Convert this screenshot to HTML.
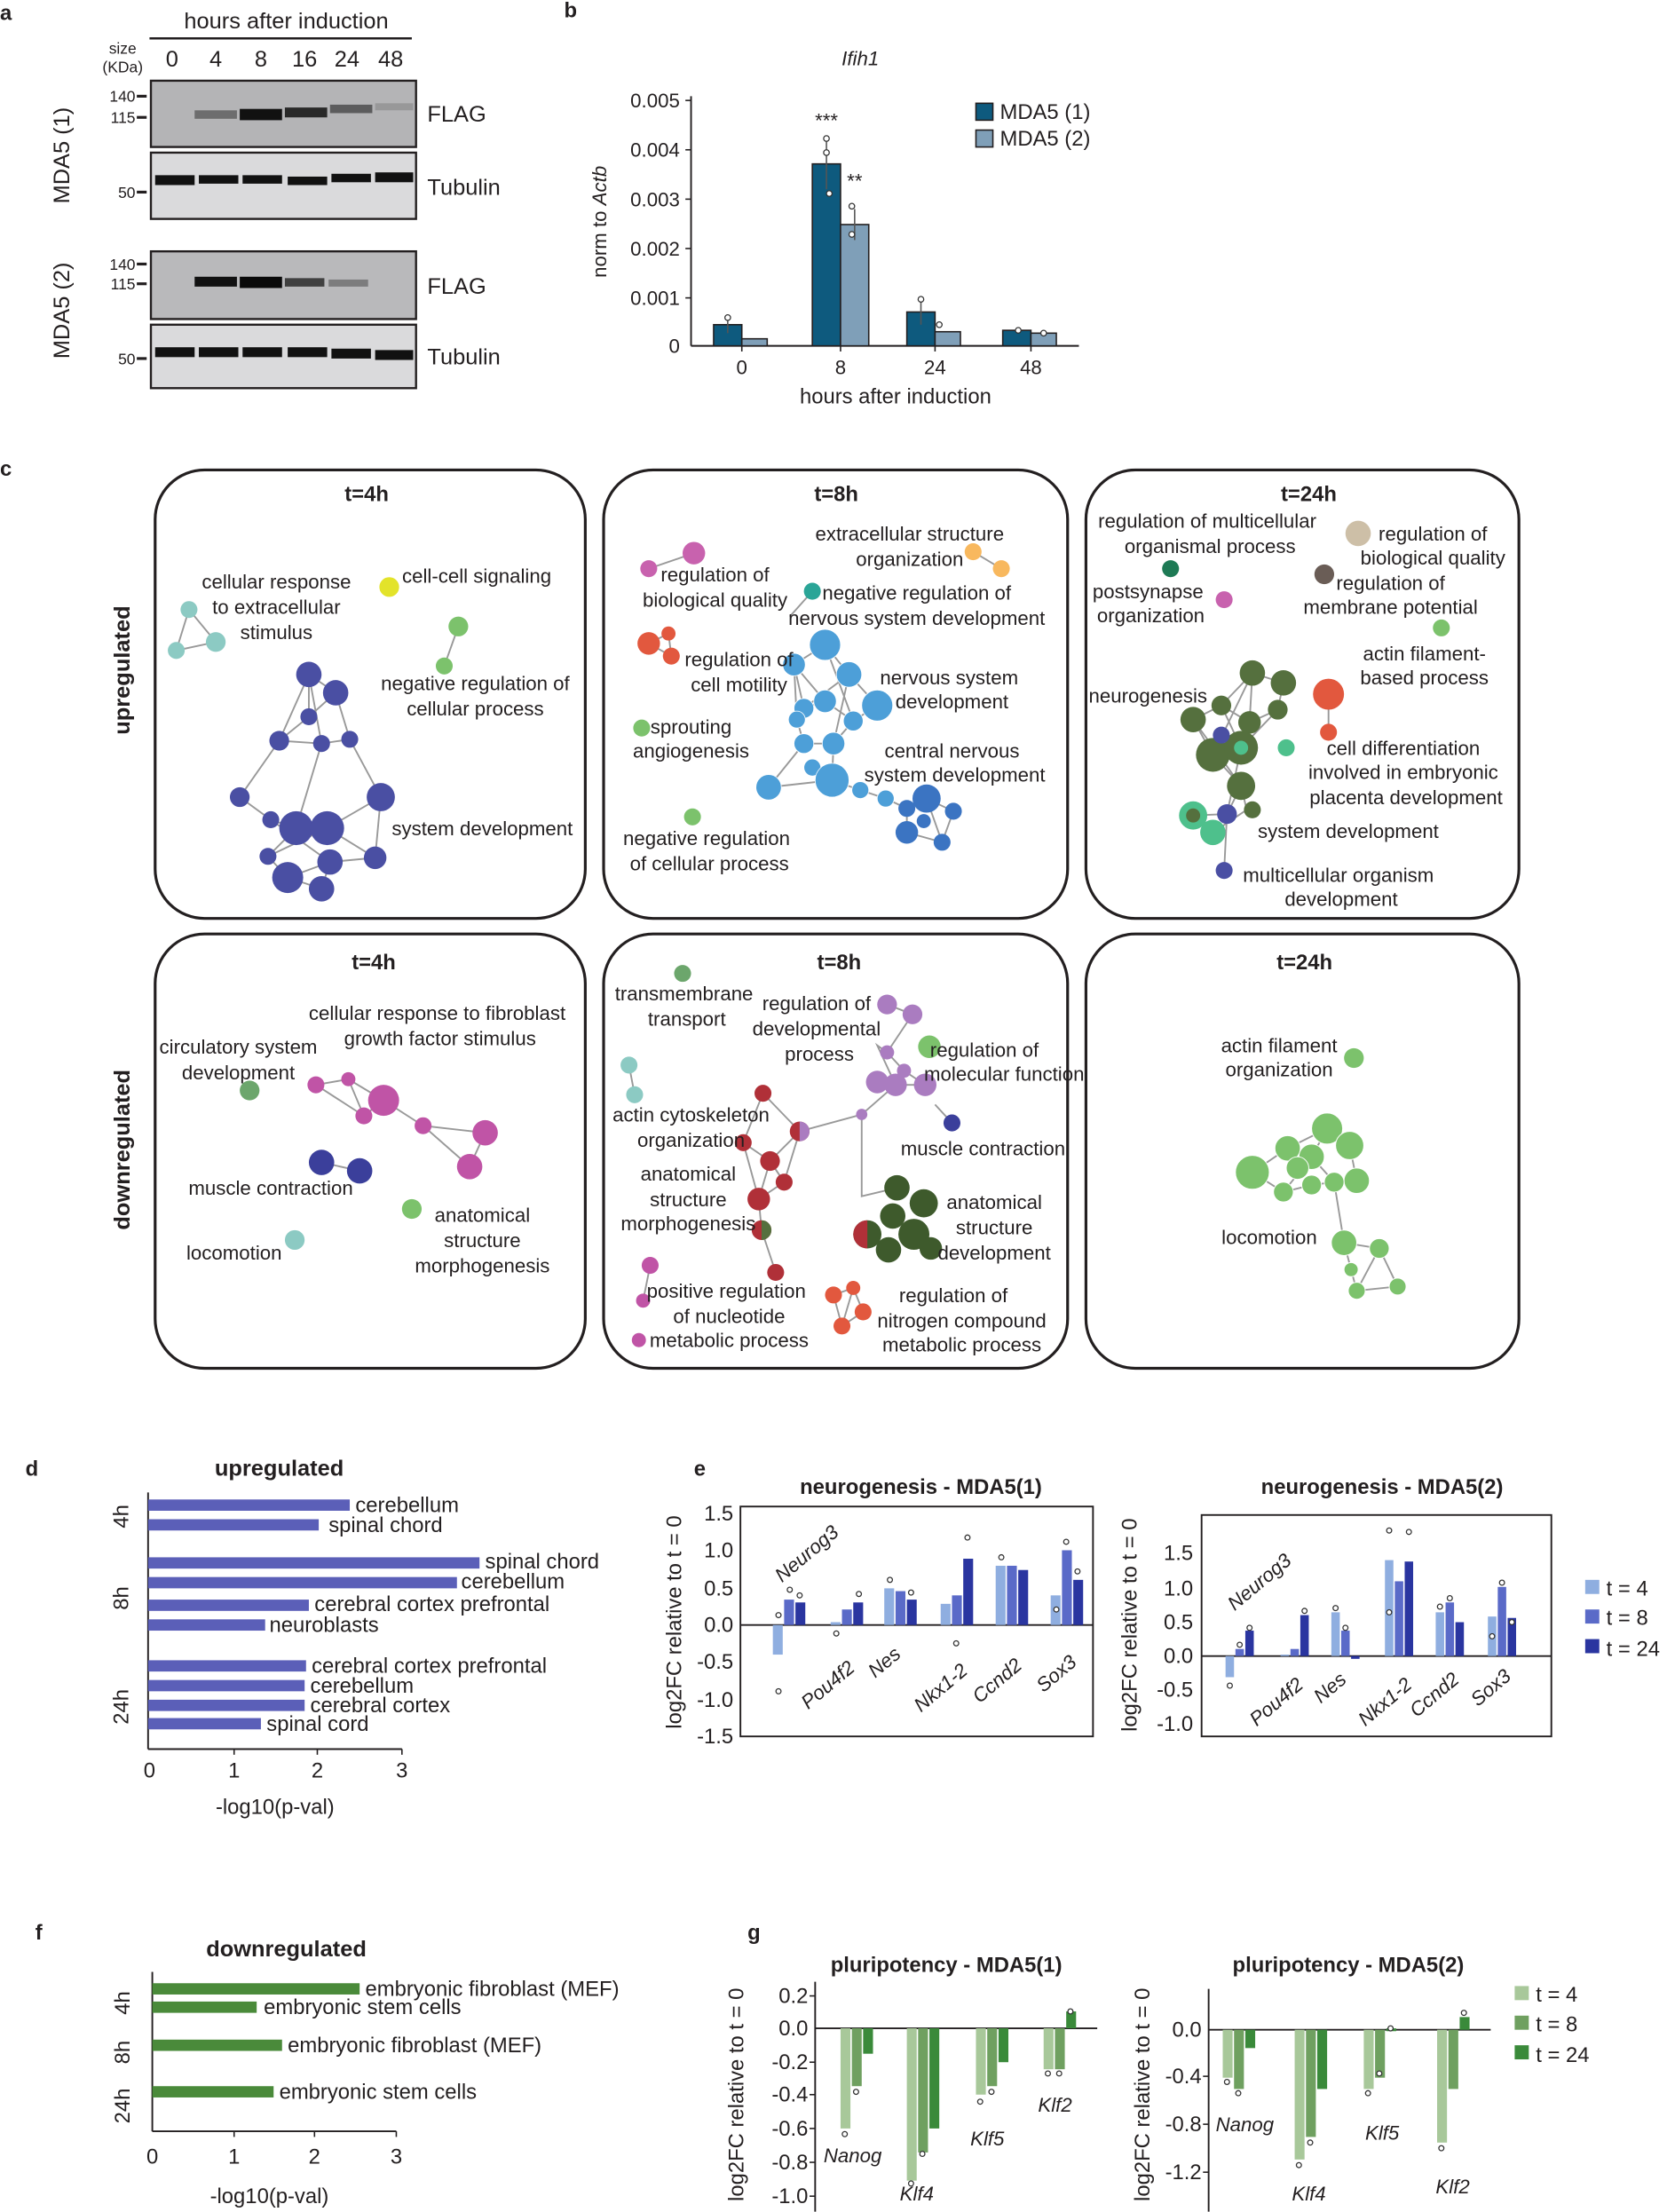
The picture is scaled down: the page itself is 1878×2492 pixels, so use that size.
<!DOCTYPE html>
<html><head><meta charset="utf-8"><style>
html,body{margin:0;padding:0;background:#fff}
svg{display:block}
text{font-family:"Liberation Sans",Arial,sans-serif;fill:#231f20}
g[stroke="#999"] path{fill:none}
</style></head><body>
<svg width="1878" height="2492" viewBox="0 0 1182 1568" xmlns="http://www.w3.org/2000/svg">
<rect width="1182" height="1568" fill="#fff"/>
<g font-weight="bold" font-size="15">
<text x="0" y="14">a</text><text x="400" y="12">b</text><text x="0" y="337">c</text>
<text x="18" y="1046">d</text><text x="492" y="1046">e</text><text x="25" y="1375">f</text><text x="530" y="1375">g</text>
</g>
<text x="203" y="20" font-size="16" text-anchor="middle">hours after induction</text>
<line x1="106" y1="27" x2="292" y2="27" stroke="#231f20" stroke-width="1.5"/>
<text x="87" y="38" font-size="11" text-anchor="middle">size</text>
<text x="87" y="51" font-size="11" text-anchor="middle">(KDa)</text>
<g font-size="16" text-anchor="middle">
<text x="122" y="47">0</text><text x="153" y="47">4</text><text x="185" y="47">8</text><text x="216" y="47">16</text><text x="246" y="47">24</text><text x="277" y="47">48</text>
</g>
<rect x="107" y="57" width="188" height="47" fill="#b4b4b6" stroke="#231f20" stroke-width="1.5"/>
<rect x="138" y="78" width="30" height="6" fill="#333" opacity="0.55"/>
<rect x="170" y="77" width="30" height="8" fill="#111"/>
<rect x="202" y="76" width="30" height="7" fill="#1a1a1a" opacity="0.9"/>
<rect x="234" y="74" width="30" height="6" fill="#222" opacity="0.6"/>
<rect x="266" y="73" width="27" height="5" fill="#444" opacity="0.25"/>
<rect x="107" y="108" width="188" height="47" fill="#dadadc" stroke="#231f20" stroke-width="1.5"/>
<g fill="#111"><rect x="110" y="124" width="28" height="7"/><rect x="141" y="124" width="28" height="6"/><rect x="172" y="124" width="28" height="6"/><rect x="204" y="125" width="28" height="6"/><rect x="235" y="123" width="28" height="6"/><rect x="266" y="122" width="27" height="7"/></g>
<rect x="107" y="178" width="188" height="48" fill="#b9b9bb" stroke="#231f20" stroke-width="1.5"/>
<rect x="138" y="196" width="30" height="7" fill="#111"/>
<rect x="170" y="196" width="30" height="8" fill="#0a0a0a"/>
<rect x="202" y="197" width="28" height="6" fill="#222" opacity="0.8"/>
<rect x="233" y="198" width="28" height="5" fill="#333" opacity="0.45"/>
<rect x="107" y="230" width="188" height="45" fill="#dadadc" stroke="#231f20" stroke-width="1.5"/>
<g fill="#111"><rect x="110" y="246" width="28" height="7"/><rect x="141" y="246" width="28" height="7"/><rect x="172" y="246" width="28" height="7"/><rect x="204" y="246" width="28" height="7"/><rect x="235" y="247" width="28" height="7"/><rect x="266" y="248" width="27" height="7"/></g>
<g font-size="11" text-anchor="end">
<text x="96" y="72">140</text><text x="96" y="87">115</text><text x="96" y="140">50</text>
<text x="96" y="191">140</text><text x="96" y="205">115</text><text x="96" y="258">50</text>
</g>
<g stroke="#231f20" stroke-width="2"><line x1="97" y1="68" x2="104" y2="68"/><line x1="97" y1="83" x2="104" y2="83"/><line x1="97" y1="136" x2="104" y2="136"/><line x1="97" y1="187" x2="104" y2="187"/><line x1="97" y1="201" x2="104" y2="201"/><line x1="97" y1="254" x2="104" y2="254"/></g>
<g font-size="16"><text x="303" y="86">FLAG</text><text x="303" y="138">Tubulin</text><text x="303" y="208">FLAG</text><text x="303" y="258">Tubulin</text></g>
<text transform="translate(49,110) rotate(-90)" font-size="16" text-anchor="middle">MDA5 (1)</text>
<text transform="translate(49,220) rotate(-90)" font-size="16" text-anchor="middle">MDA5 (2)</text>
<text x="610" y="46" font-size="14" font-style="italic" text-anchor="middle">Ifih1</text>
<line x1="490" y1="68" x2="490" y2="245" stroke="#231f20" stroke-width="1.2"/>
<line x1="490" y1="245" x2="765" y2="245" stroke="#231f20" stroke-width="1.2"/>
<g font-size="14" text-anchor="end">
<text x="482" y="76">0.005</text><text x="482" y="111">0.004</text><text x="482" y="146">0.003</text><text x="482" y="181">0.002</text><text x="482" y="216">0.001</text><text x="482" y="250">0</text>
</g>
<g stroke="#231f20"><line x1="486" y1="71" x2="490" y2="71"/><line x1="486" y1="106" x2="490" y2="106"/><line x1="486" y1="141" x2="490" y2="141"/><line x1="486" y1="176" x2="490" y2="176"/><line x1="486" y1="211" x2="490" y2="211"/>
<line x1="526" y1="245" x2="526" y2="249"/><line x1="596" y1="245" x2="596" y2="249"/><line x1="663" y1="245" x2="663" y2="249"/><line x1="731" y1="245" x2="731" y2="249"/></g>
<text transform="translate(430,157) rotate(-90)" font-size="14" text-anchor="middle">norm to <tspan font-style="italic">Actb</tspan></text>
<g font-size="14" text-anchor="middle"><text x="526" y="265">0</text><text x="596" y="265">8</text><text x="663" y="265">24</text><text x="731" y="265">48</text></g>
<text x="635" y="286" font-size="15" text-anchor="middle">hours after induction</text>
<g stroke="#231f20" stroke-width="1">
<rect x="506" y="230" width="20" height="15" fill="#0e5a7e"/><rect x="526" y="240" width="18" height="5" fill="#7f9fb8"/>
<rect x="576" y="116" width="20" height="129" fill="#0e5a7e"/><rect x="596" y="159" width="20" height="86" fill="#7f9fb8"/>
<rect x="643" y="221" width="20" height="24" fill="#0e5a7e"/><rect x="663" y="235" width="18" height="10" fill="#7f9fb8"/>
<rect x="711" y="234" width="20" height="11" fill="#0e5a7e"/><rect x="731" y="236" width="18" height="9" fill="#7f9fb8"/>
</g>
<g stroke="#555" stroke-width="1"><line x1="586" y1="98" x2="586" y2="134"/><line x1="606" y1="148" x2="606" y2="170"/><line x1="516" y1="224" x2="516" y2="236"/><line x1="653" y1="212" x2="653" y2="230"/></g>
<g fill="#fff" stroke="#333" stroke-width="0.8"><circle cx="586" cy="98" r="2"/><circle cx="586" cy="108" r="2"/><circle cx="588" cy="137" r="2"/><circle cx="604" cy="146" r="2"/><circle cx="604" cy="166" r="2"/><circle cx="516" cy="225" r="2"/><circle cx="653" cy="212" r="2"/><circle cx="666" cy="230" r="2"/><circle cx="722" cy="234" r="2"/><circle cx="740" cy="236" r="2"/></g>
<text x="586" y="90" font-size="14" text-anchor="middle">***</text>
<text x="606" y="133" font-size="14" text-anchor="middle">**</text>
<rect x="692" y="73" width="12" height="12" fill="#0e5a7e" stroke="#231f20"/><text x="709" y="84" font-size="15">MDA5 (1)</text>
<rect x="692" y="92" width="12" height="12" fill="#7f9fb8" stroke="#231f20"/><text x="709" y="103" font-size="15">MDA5 (2)</text>
<g fill="none" stroke="#231f20" stroke-width="2">
<rect x="110" y="333" width="305" height="318" rx="35"/>
<rect x="428" y="333" width="329" height="318" rx="35"/>
<rect x="770" y="333" width="307" height="318" rx="35"/>
<rect x="110" y="662" width="305" height="308" rx="35"/>
<rect x="428" y="662" width="329" height="308" rx="35"/>
<rect x="770" y="662" width="307" height="308" rx="35"/>
</g>
<g font-size="15" font-weight="bold" text-anchor="middle">
<text x="260" y="355">t=4h</text><text x="593" y="355">t=8h</text><text x="928" y="355">t=24h</text>
<text x="265" y="687">t=4h</text><text x="595" y="687">t=8h</text><text x="925" y="687">t=24h</text>
</g>
<text transform="translate(92,475) rotate(-90)" font-size="16" font-weight="bold" text-anchor="middle">upregulated</text>
<text transform="translate(92,815) rotate(-90)" font-size="16" font-weight="bold" text-anchor="middle">downregulated</text>
<g stroke="#999" stroke-width="1.2">
<path d="M219,478 L238,491 L248,524 L228,527 L198,525 L219,508 L219,478 L198,525 L170,565 L192,581 L210,587 L232,587 L270,565 L248,524 M210,587 L190,607 L204,622 L228,630 L234,611 L266,608 L270,565 M192,581 L234,611 L204,622 M219,508 L238,491 M228,527 L210,587 M170,565 L198,525 M219,478 L228,527 M232,587 L266,608 M190,607 L232,587"/>
<path d="M134,432 L153,455 L125,461 Z M315,472 L325,444"/>
</g>
<g fill="#4a4fa3">
<circle cx="219" cy="478" r="9"/><circle cx="238" cy="491" r="9"/><circle cx="219" cy="508" r="6"/><circle cx="198" cy="525" r="7"/><circle cx="228" cy="527" r="6"/><circle cx="248" cy="524" r="6"/><circle cx="170" cy="565" r="7"/><circle cx="192" cy="581" r="6"/><circle cx="210" cy="587" r="12"/><circle cx="232" cy="587" r="12"/><circle cx="270" cy="565" r="10"/><circle cx="190" cy="607" r="6"/><circle cx="234" cy="611" r="9"/><circle cx="266" cy="608" r="8"/><circle cx="204" cy="622" r="11"/><circle cx="228" cy="630" r="9"/>
</g>
<g fill="#8ccac3"><circle cx="134" cy="432" r="6"/><circle cx="153" cy="455" r="7"/><circle cx="125" cy="461" r="6"/></g>
<circle cx="276" cy="416" r="7" fill="#e3e32a"/>
<circle cx="325" cy="444" r="7" fill="#7cc26c"/><circle cx="315" cy="472" r="6" fill="#7cc26c"/>
<g font-size="14" text-anchor="middle">
<text x="196" y="417">cellular response</text><text x="196" y="435">to extracellular</text><text x="196" y="453">stimulus</text>
<text x="338" y="413">cell-cell signaling</text>
<text x="337" y="489">negative regulation of</text><text x="337" y="507">cellular process</text>
<text x="342" y="592">system development</text>
</g>
<g stroke="#999" stroke-width="1.2">
<path d="M460,403 L492,392 M460,456 L476,465 L474,449 Z M576,419 L560,437 M690,391 L710,403 M643,573 L657,566 L676,575 L668,597 L643,590 Z M657,566 L668,597"/>
<path d="M563,471 L585,457 L602,478 L622,500 L605,511 L585,497 L563,471 L570,502 L585,497 L605,511 L591,527 L570,527 L565,510 L563,471 M545,558 L570,527 L591,527 L590,553 L610,560 L628,566 L643,573 M602,478 L591,527 M585,457 L605,511 M570,502 L602,478 M545,558 L590,553 L576,544"/>
</g>
<g fill="#4d9fd8" stroke="#fff" stroke-width="0.5">
<circle cx="563" cy="471" r="8"/><circle cx="585" cy="457" r="11"/><circle cx="602" cy="478" r="9"/><circle cx="622" cy="500" r="11"/><circle cx="605" cy="511" r="7"/><circle cx="585" cy="497" r="8"/><circle cx="570" cy="502" r="7"/><circle cx="565" cy="510" r="6"/><circle cx="591" cy="527" r="8"/><circle cx="570" cy="527" r="7"/><circle cx="576" cy="544" r="6"/><circle cx="545" cy="558" r="9"/><circle cx="590" cy="553" r="12"/><circle cx="610" cy="560" r="6"/><circle cx="628" cy="566" r="6"/>
</g>
<g fill="#3b74c2"><circle cx="657" cy="566" r="10"/><circle cx="643" cy="590" r="8"/><circle cx="676" cy="575" r="6"/><circle cx="668" cy="597" r="6"/><circle cx="643" cy="573" r="6"/><circle cx="655" cy="582" r="5"/></g>
<circle cx="492" cy="392" r="8" fill="#c862ae"/><circle cx="460" cy="403" r="6" fill="#c862ae"/>
<circle cx="576" cy="419" r="6" fill="#2aa597"/>
<circle cx="690" cy="391" r="6" fill="#f8b85e"/><circle cx="710" cy="403" r="6" fill="#f8b85e"/>
<circle cx="460" cy="456" r="8" fill="#e2583e"/><circle cx="476" cy="465" r="6" fill="#e2583e"/><circle cx="474" cy="449" r="5" fill="#e2583e"/>
<circle cx="455" cy="516" r="6" fill="#7cc26c"/><circle cx="491" cy="579" r="6" fill="#7cc26c"/>
<g font-size="14" text-anchor="middle">
<text x="645" y="383">extracellular structure</text><text x="645" y="401">organization</text>
<text x="507" y="412">regulation of</text><text x="507" y="430">biological quality</text>
<text x="650" y="425">negative regulation of</text><text x="650" y="443">nervous system development</text>
<text x="524" y="472">regulation of</text><text x="524" y="490">cell motility</text>
<text x="673" y="485">nervous system</text><text x="675" y="502">development</text>
<text x="490" y="520">sprouting</text><text x="490" y="537">angiogenesis</text>
<text x="675" y="537">central nervous</text><text x="677" y="554">system development</text>
<text x="501" y="599">negative regulation</text><text x="503" y="617">of cellular process</text>
</g>
<g stroke="#999" stroke-width="1.2">
<path d="M942,492 L942,519 M888,477 L910,484 L906,503 L886,512 L866,500 L846,510 L860,535 L880,530 L886,512 L888,477 L866,500 L880,530 L906,503 M860,535 L880,557 L870,577 L846,578 L860,590 L884,574 L880,557 M870,577 L868,617 M846,510 L880,557 M888,477 L860,535 M906,503 L880,530 L870,577"/>
</g>
<g fill="#55703e">
<circle cx="888" cy="477" r="9"/><circle cx="910" cy="484" r="9"/><circle cx="906" cy="503" r="7"/><circle cx="866" cy="500" r="7"/><circle cx="846" cy="510" r="9"/><circle cx="886" cy="512" r="8"/><circle cx="860" cy="535" r="12"/><circle cx="880" cy="530" r="12"/><circle cx="880" cy="557" r="10"/><circle cx="888" cy="574" r="6"/>
</g>
<circle cx="880" cy="530" r="5" fill="#4ec08c"/><circle cx="866" cy="521" r="6" fill="#4a4fa3"/>
<circle cx="846" cy="578" r="10" fill="#4ec08c"/><circle cx="846" cy="578" r="5" fill="#55703e"/><circle cx="860" cy="590" r="9" fill="#4ec08c"/><circle cx="870" cy="577" r="7" fill="#4a4fa3"/>
<circle cx="868" cy="617" r="6" fill="#4a4fa3"/>
<circle cx="912" cy="530" r="6" fill="#4ec08c"/>
<circle cx="942" cy="492" r="11" fill="#e2583e"/><circle cx="942" cy="519" r="6" fill="#e2583e"/>
<circle cx="830" cy="403" r="6" fill="#1e7a55"/><circle cx="868" cy="425" r="6" fill="#c862ae"/>
<circle cx="963" cy="378" r="9" fill="#cdbfa7"/><circle cx="939" cy="407" r="7" fill="#6a5d56"/>
<circle cx="1022" cy="445" r="6" fill="#7cc26c"/>
<g font-size="14" text-anchor="middle">
<text x="856" y="374">regulation of multicellular</text><text x="858" y="392">organismal process</text>
<text x="1016" y="383">regulation of</text><text x="1016" y="400">biological quality</text>
<text x="814" y="424">postsynapse</text><text x="816" y="441">organization</text>
<text x="986" y="418">regulation of</text><text x="986" y="435">membrane potential</text>
<text x="1010" y="468">actin filament-</text><text x="1010" y="485">based process</text>
<text x="814" y="498">neurogenesis</text>
<text x="995" y="535">cell differentiation</text><text x="995" y="552">involved in embryonic</text><text x="997" y="570">placenta development</text>
<text x="956" y="594">system development</text>
<text x="949" y="625">multicellular organism</text><text x="951" y="642">development</text>
</g>
<g stroke="#999" stroke-width="1.2">
<path d="M224,769 L247,765 L272,780 L258,791 L224,769 M247,765 L258,791 M272,780 L300,798 L344,803 L333,827 L300,798 M228,824 L255,830"/>
</g>
<g fill="#c054a6"><circle cx="224" cy="769" r="6"/><circle cx="247" cy="765" r="5"/><circle cx="272" cy="780" r="11"/><circle cx="258" cy="791" r="6"/><circle cx="300" cy="798" r="6"/><circle cx="344" cy="803" r="9"/><circle cx="333" cy="827" r="9"/></g>
<circle cx="228" cy="824" r="9" fill="#3b3f9b"/><circle cx="255" cy="830" r="9" fill="#3b3f9b"/>
<circle cx="177" cy="773" r="7" fill="#6ca66c"/><circle cx="292" cy="857" r="7" fill="#7cc26c"/><circle cx="209" cy="879" r="7" fill="#8ccac3"/>
<g font-size="14" text-anchor="middle">
<text x="310" y="723">cellular response to fibroblast</text><text x="312" y="741">growth factor stimulus</text>
<text x="169" y="747">circulatory system</text><text x="169" y="765">development</text>
<text x="192" y="847">muscle contraction</text>
<text x="342" y="866">anatomical</text><text x="342" y="884">structure</text><text x="342" y="902">morphogenesis</text>
<text x="166" y="893">locomotion</text>
</g>
<g stroke="#999" stroke-width="1.2">
<path d="M446,755 L450,776 M629,712 L647,719 L629,746 L622,741 L635,769 L656,769 L641,759 L629,746 M635,769 L611,790 L611,848 L636,842 M611,790 L567,802 L541,775 L527,810 L546,823 L538,850 L556,838 L546,823 L567,802 M527,810 L538,850 L540,872 L550,902 M567,802 L556,838 M675,796 L663,783 M461,897 L456,922 M591,918 L605,913 L612,930 L597,940 L591,918 M605,913 L597,940"/>
</g>
<circle cx="484" cy="690" r="6" fill="#6ca66c"/>
<g fill="#aa7cc0"><circle cx="629" cy="712" r="7"/><circle cx="647" cy="719" r="7"/><circle cx="629" cy="746" r="5"/><circle cx="635" cy="769" r="8"/><circle cx="656" cy="769" r="8"/><circle cx="622" cy="767" r="8"/><circle cx="611" cy="790" r="4"/><circle cx="641" cy="759" r="5"/></g>
<circle cx="659" cy="742" r="8" fill="#7cc26c"/>
<circle cx="446" cy="755" r="6" fill="#8ccac3"/><circle cx="450" cy="776" r="6" fill="#8ccac3"/>
<circle cx="675" cy="796" r="6" fill="#3b3f9b"/>
<g fill="#b03038"><circle cx="541" cy="775" r="6"/><circle cx="567" cy="802" r="7"/><circle cx="527" cy="810" r="6"/><circle cx="546" cy="823" r="7"/><circle cx="556" cy="838" r="6"/><circle cx="538" cy="850" r="8"/><circle cx="540" cy="872" r="7"/><circle cx="550" cy="902" r="6"/></g>
<path d="M567,802 L567,795 A7,7 0 0 1 567,809 Z" fill="#aa7cc0"/>
<path d="M540,872 L540,865 A7,7 0 0 1 540,879 Z" fill="#55703e"/>
<g fill="#3e5a2c"><circle cx="636" cy="842" r="9"/><circle cx="655" cy="853" r="10"/><circle cx="633" cy="862" r="9"/><circle cx="648" cy="875" r="11"/><circle cx="615" cy="875" r="10"/><circle cx="630" cy="886" r="9"/><circle cx="660" cy="885" r="8"/></g>
<path d="M615,865 A10,10 0 0 0 615,885 Z" fill="#b03038"/>
<circle cx="461" cy="897" r="6" fill="#c054a6"/><circle cx="456" cy="922" r="5" fill="#c054a6"/><circle cx="453" cy="950" r="5" fill="#c054a6"/>
<g fill="#e2583e"><circle cx="591" cy="918" r="6"/><circle cx="605" cy="913" r="5"/><circle cx="612" cy="930" r="6"/><circle cx="597" cy="940" r="6"/></g>
<g font-size="14" text-anchor="middle">
<text x="485" y="709">transmembrane</text><text x="487" y="727">transport</text>
<text x="579" y="716">regulation of</text><text x="579" y="734">developmental</text><text x="581" y="752">process</text>
<text x="698" y="749">regulation of</text><text x="712" y="766">molecular function</text>
<text x="490" y="795">actin cytoskeleton</text><text x="490" y="813">organization</text>
<text x="697" y="819">muscle contraction</text>
<text x="488" y="837">anatomical</text><text x="488" y="855">structure</text><text x="488" y="872">morphogenesis</text>
<text x="705" y="857">anatomical</text><text x="705" y="875">structure</text><text x="705" y="893">development</text>
<text x="515" y="920">positive regulation</text><text x="517" y="938">of nucleotide</text><text x="517" y="955">metabolic process</text>
<text x="676" y="923">regulation of</text><text x="682" y="941">nitrogen compound</text><text x="682" y="958">metabolic process</text>
</g>
<g stroke="#999" stroke-width="1.2">
<path d="M888,831 L913,814 L941,800 L957,812 L962,837 L946,838 L930,820 L913,814 M888,831 L910,845 L930,840 L946,838 M941,800 L930,820 L910,845 M953,881 L946,838 M953,881 L978,885 L991,912 L962,915 L958,900 L953,881 M978,885 L962,915"/>
</g>
<g fill="#7cc26c" stroke="#fff" stroke-width="0.6">
<circle cx="888" cy="831" r="12"/><circle cx="913" cy="814" r="9"/><circle cx="941" cy="800" r="11"/><circle cx="957" cy="812" r="10"/><circle cx="962" cy="837" r="9"/><circle cx="946" cy="838" r="7"/><circle cx="930" cy="820" r="9"/><circle cx="910" cy="845" r="7"/><circle cx="930" cy="840" r="7"/><circle cx="920" cy="828" r="8"/><circle cx="953" cy="881" r="9"/><circle cx="978" cy="885" r="7"/><circle cx="991" cy="912" r="6"/><circle cx="962" cy="915" r="6"/><circle cx="958" cy="900" r="5"/>
</g>
<circle cx="960" cy="750" r="7" fill="#7cc26c"/>
<g font-size="14" text-anchor="middle">
<text x="907" y="746">actin filament</text><text x="907" y="763">organization</text>
<text x="900" y="882">locomotion</text>
</g>
<text x="198" y="1046" font-size="16" font-weight="bold" text-anchor="middle">upregulated</text>
<line x1="105" y1="1058" x2="105" y2="1240" stroke="#231f20" stroke-width="1.2"/>
<line x1="105" y1="1240" x2="285" y2="1240" stroke="#231f20" stroke-width="1.2"/>
<g fill="#5b5fb8">
<rect x="105" y="1063" width="143" height="8"/><rect x="105" y="1077" width="121" height="8"/>
<rect x="105" y="1104" width="235" height="8"/><rect x="105" y="1118" width="219" height="8"/><rect x="105" y="1134" width="114" height="8"/><rect x="105" y="1148" width="83" height="8"/>
<rect x="105" y="1177" width="112" height="8"/><rect x="105" y="1191" width="111" height="8"/><rect x="105" y="1205" width="111" height="8"/><rect x="105" y="1218" width="80" height="8"/>
</g>
<g font-size="15">
<text x="252" y="1072">cerebellum</text><text x="233" y="1086">spinal chord</text>
<text x="344" y="1112">spinal chord</text><text x="327" y="1126">cerebellum</text><text x="223" y="1142">cerebral cortex prefrontal</text><text x="191" y="1157">neuroblasts</text>
<text x="221" y="1186">cerebral cortex prefrontal</text><text x="220" y="1200">cerebellum</text><text x="220" y="1214">cerebral cortex</text><text x="189" y="1227">spinal cord</text>
</g>
<g font-size="15" text-anchor="middle">
<text transform="translate(91,1075) rotate(-90)">4h</text><text transform="translate(91,1133) rotate(-90)">8h</text><text transform="translate(91,1210) rotate(-90)">24h</text>
<text x="106" y="1260">0</text><text x="166" y="1260">1</text><text x="225" y="1260">2</text><text x="285" y="1260">3</text>
<text x="195" y="1286">-log10(p-val)</text>
</g>
<g stroke="#231f20"><line x1="166" y1="1240" x2="166" y2="1244"/><line x1="225" y1="1240" x2="225" y2="1244"/><line x1="285" y1="1240" x2="285" y2="1244"/></g>
<text x="653" y="1059" font-size="15" font-weight="bold" text-anchor="middle">neurogenesis -  MDA5(1)</text>
<rect x="525" y="1068" width="250" height="163" fill="none" stroke="#231f20" stroke-width="1.2"/>
<line x1="525" y1="1152" x2="775" y2="1152" stroke="#231f20" stroke-width="1.2"/>
<g font-size="15" text-anchor="end">
<text x="520" y="1078">1.5</text><text x="520" y="1104">1.0</text><text x="520" y="1131">0.5</text><text x="520" y="1157">0.0</text><text x="520" y="1183">-0.5</text><text x="520" y="1210">-1.0</text><text x="520" y="1236">-1.5</text>
</g>
<text transform="translate(483,1150) rotate(-90)" font-size="15" text-anchor="middle">log2FC relative to t = 0</text>
<g>
<rect x="548" y="1152" width="7" height="21" fill="#8faee0"/><rect x="556" y="1134" width="7" height="18" fill="#5a6ac8"/><rect x="564" y="1136" width="7" height="16" fill="#2a35a0"/>
<rect x="589" y="1150" width="7" height="2" fill="#8faee0"/><rect x="597" y="1141" width="7" height="11" fill="#5a6ac8"/><rect x="605" y="1136" width="7" height="16" fill="#2a35a0"/>
<rect x="627" y="1126" width="7" height="26" fill="#8faee0"/><rect x="635" y="1128" width="7" height="24" fill="#5a6ac8"/><rect x="643" y="1134" width="7" height="18" fill="#2a35a0"/>
<rect x="667" y="1137" width="7" height="15" fill="#8faee0"/><rect x="675" y="1131" width="7" height="21" fill="#5a6ac8"/><rect x="683" y="1105" width="7" height="47" fill="#2a35a0"/>
<rect x="706" y="1110" width="7" height="42" fill="#8faee0"/><rect x="714" y="1110" width="7" height="42" fill="#5a6ac8"/><rect x="722" y="1113" width="7" height="39" fill="#2a35a0"/>
<rect x="745" y="1131" width="7" height="21" fill="#8faee0"/><rect x="753" y="1099" width="7" height="53" fill="#5a6ac8"/><rect x="761" y="1120" width="7" height="32" fill="#2a35a0"/>
</g>
<g fill="#fff" stroke="#333" stroke-width="0.8"><circle cx="552" cy="1199" r="1.8"/><circle cx="552" cy="1145" r="1.8"/><circle cx="560" cy="1127" r="1.8"/><circle cx="567" cy="1131" r="1.8"/><circle cx="593" cy="1158" r="1.8"/><circle cx="609" cy="1130" r="1.8"/><circle cx="631" cy="1120" r="1.8"/><circle cx="646" cy="1129" r="1.8"/><circle cx="678" cy="1165" r="1.8"/><circle cx="686" cy="1090" r="1.8"/><circle cx="710" cy="1104" r="1.8"/><circle cx="749" cy="1141" r="1.8"/><circle cx="756" cy="1093" r="1.8"/><circle cx="764" cy="1114" r="1.8"/></g>
<g font-size="14" font-style="italic" text-anchor="middle">
<text transform="translate(575,1105) rotate(-40)">Neurog3</text>
<text transform="translate(590,1198) rotate(-40)">Pou4f2</text>
<text transform="translate(630,1182) rotate(-40)">Nes</text>
<text transform="translate(670,1200) rotate(-40)">Nkx1-2</text>
<text transform="translate(710,1195) rotate(-40)">Ccnd2</text>
<text transform="translate(752,1190) rotate(-40)">Sox3</text>
</g>
<text x="980" y="1059" font-size="15" font-weight="bold" text-anchor="middle">neurogenesis -  MDA5(2)</text>
<rect x="852" y="1074" width="248" height="157" fill="none" stroke="#231f20" stroke-width="1.2"/>
<line x1="852" y1="1174" x2="1100" y2="1174" stroke="#231f20" stroke-width="1.2"/>
<g font-size="15" text-anchor="end">
<text x="846" y="1106">1.5</text><text x="846" y="1131">1.0</text><text x="846" y="1155">0.5</text><text x="846" y="1179">0.0</text><text x="846" y="1203">-0.5</text><text x="846" y="1227">-1.0</text>
</g>
<text transform="translate(806,1152) rotate(-90)" font-size="15" text-anchor="middle">log2FC relative to t = 0</text>
<g>
<rect x="869" y="1174" width="6" height="15" fill="#8faee0"/><rect x="876" y="1169" width="6" height="5" fill="#5a6ac8"/><rect x="883" y="1156" width="6" height="18" fill="#2a35a0"/>
<rect x="908" y="1173" width="6" height="1" fill="#8faee0"/><rect x="915" y="1169" width="6" height="5" fill="#5a6ac8"/><rect x="922" y="1145" width="6" height="29" fill="#2a35a0"/>
<rect x="944" y="1143" width="6" height="31" fill="#8faee0"/><rect x="951" y="1156" width="6" height="18" fill="#5a6ac8"/><rect x="958" y="1174" width="6" height="2" fill="#2a35a0"/>
<rect x="982" y="1106" width="6" height="68" fill="#8faee0"/><rect x="989" y="1121" width="6" height="53" fill="#5a6ac8"/><rect x="996" y="1107" width="6" height="67" fill="#2a35a0"/>
<rect x="1018" y="1143" width="6" height="31" fill="#8faee0"/><rect x="1025" y="1136" width="6" height="38" fill="#5a6ac8"/><rect x="1032" y="1150" width="6" height="24" fill="#2a35a0"/>
<rect x="1055" y="1146" width="6" height="28" fill="#8faee0"/><rect x="1062" y="1125" width="6" height="49" fill="#5a6ac8"/><rect x="1069" y="1147" width="6" height="27" fill="#2a35a0"/>
</g>
<g fill="#fff" stroke="#333" stroke-width="0.8"><circle cx="872" cy="1195" r="1.8"/><circle cx="879" cy="1166" r="1.8"/><circle cx="886" cy="1154" r="1.8"/><circle cx="925" cy="1142" r="1.8"/><circle cx="947" cy="1140" r="1.8"/><circle cx="954" cy="1154" r="1.8"/><circle cx="985" cy="1085" r="1.8"/><circle cx="985" cy="1143" r="1.8"/><circle cx="999" cy="1086" r="1.8"/><circle cx="1021" cy="1139" r="1.8"/><circle cx="1028" cy="1133" r="1.8"/><circle cx="1058" cy="1160" r="1.8"/><circle cx="1065" cy="1122" r="1.8"/><circle cx="1072" cy="1150" r="1.8"/></g>
<g font-size="14" font-style="italic" text-anchor="middle">
<text transform="translate(896,1125) rotate(-40)">Neurog3</text>
<text transform="translate(908,1210) rotate(-40)">Pou4f2</text>
<text transform="translate(946,1200) rotate(-40)">Nes</text>
<text transform="translate(985,1210) rotate(-40)">Nkx1-2</text>
<text transform="translate(1020,1205) rotate(-40)">Ccnd2</text>
<text transform="translate(1060,1200) rotate(-40)">Sox3</text>
</g>
<g font-size="15">
<rect x="1124" y="1120" width="10" height="10" fill="#8faee0"/><text x="1139" y="1131">t = 4</text>
<rect x="1124" y="1141" width="10" height="10" fill="#5a6ac8"/><text x="1139" y="1152">t = 8</text>
<rect x="1124" y="1162" width="10" height="10" fill="#2a35a0"/><text x="1139" y="1174">t = 24</text>
</g>
<text x="203" y="1387" font-size="16" font-weight="bold" text-anchor="middle">downregulated</text>
<line x1="108" y1="1398" x2="108" y2="1511" stroke="#231f20" stroke-width="1.2"/>
<line x1="108" y1="1511" x2="281" y2="1511" stroke="#231f20" stroke-width="1.2"/>
<g fill="#4a8a3a">
<rect x="108" y="1406" width="147" height="8"/><rect x="108" y="1419" width="74" height="8"/>
<rect x="108" y="1446" width="92" height="8"/><rect x="108" y="1479" width="86" height="8"/>
</g>
<g font-size="15">
<text x="259" y="1415">embryonic fibroblast (MEF)</text><text x="187" y="1428">embryonic stem cells</text>
<text x="204" y="1455">embryonic fibroblast (MEF)</text><text x="198" y="1488">embryonic stem cells</text>
</g>
<g font-size="15" text-anchor="middle">
<text transform="translate(92,1420) rotate(-90)">4h</text><text transform="translate(92,1455) rotate(-90)">8h</text><text transform="translate(92,1493) rotate(-90)">24h</text>
<text x="108" y="1534">0</text><text x="166" y="1534">1</text><text x="223" y="1534">2</text><text x="281" y="1534">3</text>
<text x="191" y="1562">-log10(p-val)</text>
</g>
<g stroke="#231f20"><line x1="166" y1="1511" x2="166" y2="1515"/><line x1="223" y1="1511" x2="223" y2="1515"/><line x1="281" y1="1511" x2="281" y2="1515"/></g>
<text x="671" y="1398" font-size="15" font-weight="bold" text-anchor="middle">pluripotency -  MDA5(1)</text>
<line x1="578" y1="1405" x2="578" y2="1568" stroke="#231f20" stroke-width="1.2"/>
<line x1="578" y1="1438" x2="778" y2="1438" stroke="#231f20" stroke-width="1.2"/>
<g font-size="15" text-anchor="end">
<text x="573" y="1420">0.2</text><text x="573" y="1443">0.0</text><text x="573" y="1467">-0.2</text><text x="573" y="1490">-0.4</text><text x="573" y="1514">-0.6</text><text x="573" y="1538">-0.8</text><text x="573" y="1562">-1.0</text>
</g>
<g stroke="#231f20"><line x1="574" y1="1415" x2="578" y2="1415"/><line x1="574" y1="1462" x2="578" y2="1462"/><line x1="574" y1="1485" x2="578" y2="1485"/><line x1="574" y1="1509" x2="578" y2="1509"/><line x1="574" y1="1533" x2="578" y2="1533"/><line x1="574" y1="1557" x2="578" y2="1557"/></g>
<text transform="translate(527,1485) rotate(-90)" font-size="15" text-anchor="middle">log2FC relative to t = 0</text>
<g>
<rect x="596" y="1438" width="7" height="71" fill="#a8c89a"/><rect x="604" y="1438" width="7" height="41" fill="#6fa060"/><rect x="612" y="1438" width="7" height="18" fill="#3a8a3a"/>
<rect x="643" y="1438" width="7" height="108" fill="#a8c89a"/><rect x="651" y="1438" width="7" height="88" fill="#6fa060"/><rect x="659" y="1438" width="7" height="71" fill="#3a8a3a"/>
<rect x="692" y="1438" width="7" height="47" fill="#a8c89a"/><rect x="700" y="1438" width="7" height="41" fill="#6fa060"/><rect x="708" y="1438" width="7" height="24" fill="#3a8a3a"/>
<rect x="740" y="1438" width="7" height="29" fill="#a8c89a"/><rect x="748" y="1438" width="7" height="29" fill="#6fa060"/><rect x="756" y="1426" width="7" height="12" fill="#3a8a3a"/>
</g>
<g fill="#fff" stroke="#333" stroke-width="0.8"><circle cx="599" cy="1513" r="1.8"/><circle cx="607" cy="1483" r="1.8"/><circle cx="646" cy="1548" r="1.8"/><circle cx="654" cy="1527" r="1.8"/><circle cx="695" cy="1490" r="1.8"/><circle cx="703" cy="1483" r="1.8"/><circle cx="743" cy="1470" r="1.8"/><circle cx="751" cy="1470" r="1.8"/><circle cx="759" cy="1426" r="1.8"/></g>
<g font-size="14" font-style="italic"><text x="584" y="1533">Nanog</text><text x="638" y="1560">Klf4</text><text x="688" y="1521">Klf5</text><text x="736" y="1497">Klf2</text></g>
<text x="956" y="1398" font-size="15" font-weight="bold" text-anchor="middle">pluripotency -  MDA5(2)</text>
<line x1="857" y1="1410" x2="857" y2="1568" stroke="#231f20" stroke-width="1.2"/>
<line x1="857" y1="1439" x2="1057" y2="1439" stroke="#231f20" stroke-width="1.2"/>
<g font-size="15" text-anchor="end">
<text x="852" y="1444">0.0</text><text x="852" y="1477">-0.4</text><text x="852" y="1511">-0.8</text><text x="852" y="1545">-1.2</text>
</g>
<g stroke="#231f20"><line x1="853" y1="1472" x2="857" y2="1472"/><line x1="853" y1="1506" x2="857" y2="1506"/><line x1="853" y1="1540" x2="857" y2="1540"/></g>
<text transform="translate(815,1485) rotate(-90)" font-size="15" text-anchor="middle">log2FC relative to t = 0</text>
<g>
<rect x="867" y="1439" width="7" height="34" fill="#a8c89a"/><rect x="875" y="1439" width="7" height="42" fill="#6fa060"/><rect x="883" y="1439" width="7" height="13" fill="#3a8a3a"/>
<rect x="918" y="1439" width="7" height="92" fill="#a8c89a"/><rect x="926" y="1439" width="7" height="76" fill="#6fa060"/><rect x="934" y="1439" width="7" height="42" fill="#3a8a3a"/>
<rect x="967" y="1439" width="7" height="42" fill="#a8c89a"/><rect x="975" y="1439" width="7" height="34" fill="#6fa060"/><rect x="983" y="1438" width="7" height="2" fill="#3a8a3a"/>
<rect x="1019" y="1439" width="7" height="80" fill="#a8c89a"/><rect x="1027" y="1439" width="7" height="42" fill="#6fa060"/><rect x="1035" y="1430" width="7" height="9" fill="#3a8a3a"/>
</g>
<g fill="#fff" stroke="#333" stroke-width="0.8"><circle cx="870" cy="1476" r="1.8"/><circle cx="878" cy="1484" r="1.8"/><circle cx="921" cy="1535" r="1.8"/><circle cx="929" cy="1519" r="1.8"/><circle cx="970" cy="1484" r="1.8"/><circle cx="978" cy="1470" r="1.8"/><circle cx="986" cy="1438" r="1.8"/><circle cx="1022" cy="1523" r="1.8"/><circle cx="1038" cy="1427" r="1.8"/></g>
<g font-size="14" font-style="italic"><text x="862" y="1511">Nanog</text><text x="916" y="1560">Klf4</text><text x="968" y="1517">Klf5</text><text x="1018" y="1555">Klf2</text></g>
<g font-size="15">
<rect x="1074" y="1408" width="10" height="10" fill="#a8c89a"/><text x="1089" y="1419">t = 4</text>
<rect x="1074" y="1429" width="10" height="10" fill="#6fa060"/><text x="1089" y="1440">t = 8</text>
<rect x="1074" y="1450" width="10" height="10" fill="#3a8a3a"/><text x="1089" y="1462">t = 24</text>
</g>
</svg>
</body></html>
